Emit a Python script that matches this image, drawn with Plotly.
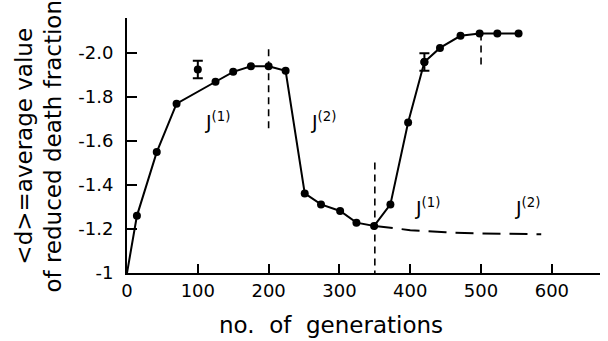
import plotly.graph_objects as go

# main series: generations vs <d>
gen = [0, 14, 42, 70, 125, 150, 175, 200, 224, 251, 274, 301, 324, 349, 372, 397, 420, 442, 471, 498, 523, 553]
d = [-1.0, -1.26, -1.55, -1.77, -1.87, -1.915, -1.94, -1.94, -1.92, -1.362, -1.312, -1.282, -1.229, -1.214,
     -1.312, -1.685, -1.96, -2.024, -2.079, -2.09, -2.09, -2.09]

# isolated point with error bar
iso_x = [100]
iso_y = [-1.926]
iso_err = [0.04]

# error bar on the series point at 420
eb_x = [420]
eb_y = [-1.96]
eb_err = [0.04]

# dashed continuation
cont_x = [350, 400, 450, 500, 585]
cont_y = [-1.214, -1.195, -1.185, -1.18, -1.176]

# vertical dashed markers: (x, y_from, y_to)
vlines = [(200, -2.018, -1.642), (350, -1.503, -1.0), (500, -2.09, -1.93)]

# labels
lab_x = [128, 277, 424, 566]
lab_y = [-1.69, -1.69, -1.30, -1.30]
lab_t = ["J<sup>(1)</sup>", "J<sup>(2)</sup>", "J<sup>(1)</sup>", "J<sup>(2)</sup>"]

yticks = [-1.0, -1.2, -1.4, -1.6, -1.8, -2.0]
yticktext = ["-1", "-1.2", "-1.4", "-1.6", "-1.8", "-2.0"]
xticks = [0, 100, 200, 300, 400, 500, 600]

FONT = "DejaVu Sans"
fig = go.Figure()

for (vx, y0, y1) in vlines:
    fig.add_trace(go.Scatter(x=[vx, vx], y=[y0, y1], mode="lines",
                             line=dict(color="black", width=1.6, dash="7px,5px"),
                             showlegend=False, hoverinfo="skip"))

fig.add_trace(go.Scatter(x=cont_x, y=cont_y, mode="lines",
                         line=dict(color="black", width=2, dash="18px,9px"),
                         showlegend=False))

fig.add_trace(go.Scatter(x=gen, y=d, mode="lines", line=dict(color="black", width=2),
                         showlegend=False))
fig.add_trace(go.Scatter(x=gen[1:], y=d[1:], mode="markers",
                         marker=dict(color="black", size=8), showlegend=False))

fig.add_trace(go.Scatter(x=iso_x, y=iso_y, mode="markers",
                         marker=dict(color="black", size=8),
                         error_y=dict(type="data", array=iso_err, color="black", thickness=2, width=5),
                         showlegend=False))
fig.add_trace(go.Scatter(x=eb_x, y=eb_y, mode="markers",
                         marker=dict(color="black", size=8),
                         error_y=dict(type="data", array=eb_err, color="black", thickness=2, width=5),
                         showlegend=False))

for tx, ty, tt in zip(lab_x, lab_y, lab_t):
    fig.add_annotation(x=tx, y=ty, text=tt, showarrow=False,
                       font=dict(family=FONT, size=19, color="black"))

fig.update_xaxes(range=[0, 668], tickvals=xticks, ticks="inside", ticklen=9, tickwidth=1.5,
                 tickcolor="black", showline=True, linecolor="black", linewidth=2,
                 showgrid=False, zeroline=False,
                 tickfont=dict(family=FONT, size=18, color="black"))
fig.update_yaxes(range=[-1.0, -2.16], tickvals=yticks, ticktext=yticktext, ticks="inside", ticklen=10,
                 tickwidth=1.5, tickcolor="black", showline=True, linecolor="black", linewidth=2,
                 showgrid=False, zeroline=False, ticklabelstandoff=8,
                 tickfont=dict(family=FONT, size=18, color="black"))

fig.add_annotation(x=0.431, y=-0.204, xref="paper", yref="paper", xanchor="center", yanchor="middle",
                   text="no.  of  generations", showarrow=False,
                   font=dict(family=FONT, size=23, color="black"))

fig.add_annotation(x=-0.187, y=0.498, xref="paper", yref="paper", xanchor="center", yanchor="middle",
                   textangle=-90,
                   text="<d>=average value<br>of reduced death fraction", showarrow=False,
                   font=dict(family=FONT, size=23, color="black"), align="center")

fig.update_layout(width=608, height=341, margin=dict(l=127, r=8, t=18, b=68),
                  plot_bgcolor="white", paper_bgcolor="white")

fig.write_html("out.html")
